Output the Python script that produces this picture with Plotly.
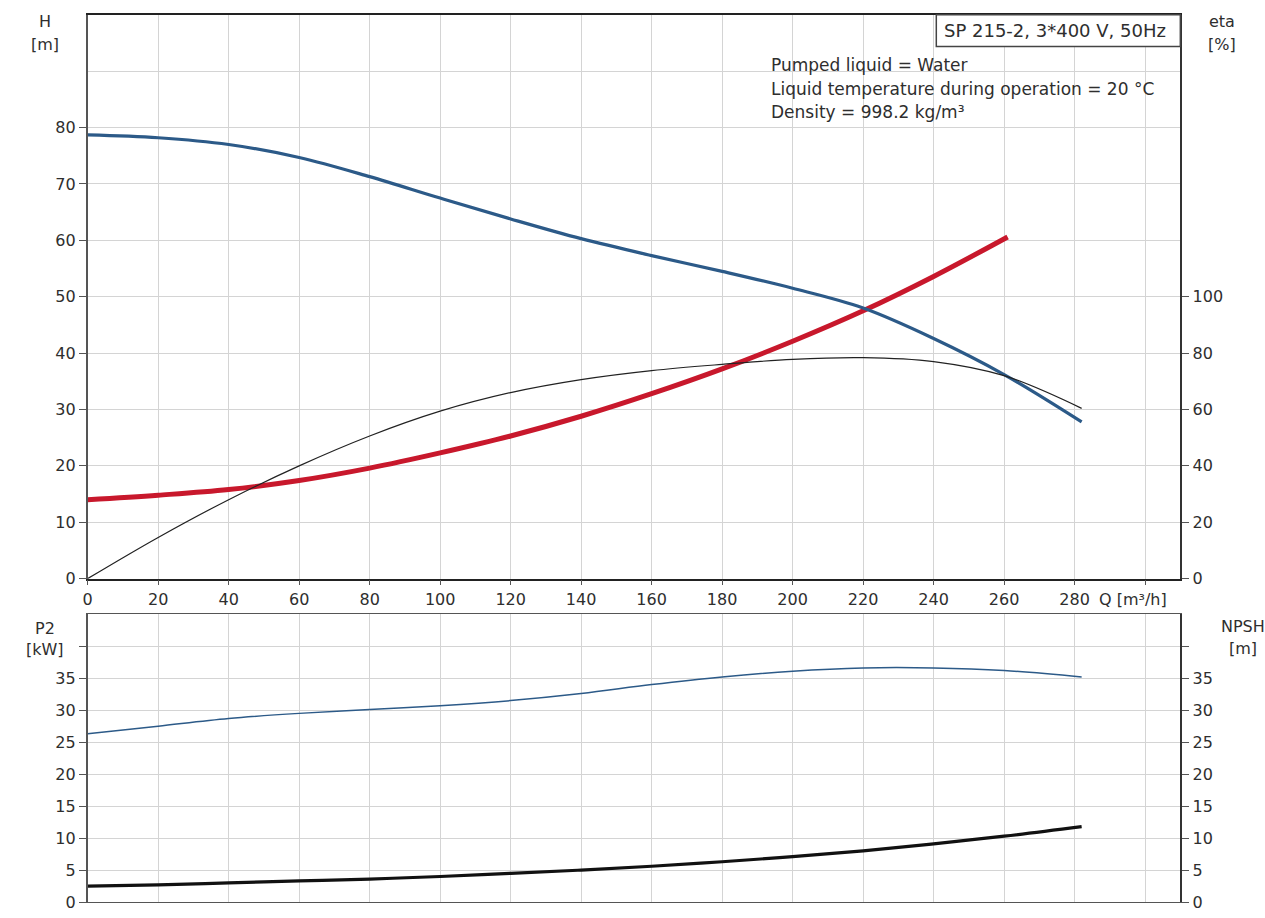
import plotly.graph_objects as go

W, H = 1265, 918

# Flow rate sample points [m3/h]
q = [0, 20, 40, 60, 80, 100, 120, 140, 160, 180, 200, 220, 240, 260, 282]

# Head curve H [m]
head = [78.7, 78.2, 77.0, 74.7, 71.3, 67.5, 63.8, 60.3, 57.3, 54.5, 51.5, 48.0, 42.6, 36.2, 27.8]

# Efficiency curve eta [%]
eta = [0, 14.6, 28.0, 40.0, 50.6, 59.4, 66.0, 70.6, 73.8, 76.0, 77.8, 78.4, 77.0, 72.0, 60.4]

# Red curve in the head panel [m]
q_red = [0, 20, 40, 60, 80, 100, 120, 140, 160, 180, 200, 220, 240, 261]
h_red = [14.0, 14.8, 15.8, 17.4, 19.6, 22.3, 25.3, 28.8, 32.8, 37.2, 42.1, 47.5, 53.6, 60.6]

# Shaft power P2 [kW]
p2 = [26.3, 27.5, 28.7, 29.5, 30.1, 30.7, 31.5, 32.6, 34.0, 35.2, 36.1, 36.6, 36.6, 36.2, 35.2]

# NPSH [m]
npsh = [2.5, 2.7, 3.0, 3.3, 3.6, 4.0, 4.5, 5.0, 5.6, 6.3, 7.1, 8.0, 9.1, 10.3, 11.8]

q_ticks = list(range(0, 301, 20))
q_ticktext = [str(v) for v in range(0, 281, 20)] + [""]
h_ticks = list(range(0, 81, 10))
eta_ticks = list(range(0, 101, 20))
bot_ticks = list(range(0, 41, 5))
bot_ticktext = [str(v) for v in range(0, 36, 5)] + [""]

BLUE = "#2c5a88"
RED = "#c8182c"
DARK = "#222222"
GRID = "#d4d4d4"
AXIS = "#555555"
TXT = "#2e2e2e"
FONT = "DejaVu Sans"


def px(x):
    return x / W


def py(y):
    return 1 - y / H


x_dom = [px(83), px(1180)]
top_dom = [py(585), py(15)]
bot_dom = [py(912), py(621)]

fig = go.Figure()

fig.add_trace(go.Scatter(x=q, y=eta, xaxis="x", yaxis="y2", mode="lines",
                         line=dict(color=DARK, width=1.2, shape="spline")))
fig.add_trace(go.Scatter(x=q_red, y=h_red, xaxis="x", yaxis="y", mode="lines",
                         line=dict(color=RED, width=5, shape="spline")))
fig.add_trace(go.Scatter(x=q, y=head, xaxis="x", yaxis="y", mode="lines",
                         line=dict(color=BLUE, width=3.2, shape="spline")))
fig.add_trace(go.Scatter(x=q, y=p2, xaxis="x2", yaxis="y3", mode="lines",
                         line=dict(color=BLUE, width=1.5, shape="spline")))
fig.add_trace(go.Scatter(x=q, y=npsh, xaxis="x2", yaxis="y4", mode="lines",
                         line=dict(color="#111111", width=3.2, shape="spline")))

tickfont = dict(family=FONT, size=16, color=TXT)

common_x = dict(range=[0, 310], tickvals=q_ticks, showgrid=True, gridcolor=GRID,
                gridwidth=1, zeroline=False, showline=True, linecolor=AXIS,
                linewidth=1, mirror=True, domain=x_dom, tickfont=tickfont)

fig.update_layout(
    width=W, height=H,
    margin=dict(l=0, r=0, t=0, b=0),
    paper_bgcolor="white", plot_bgcolor="white",
    showlegend=False,
    xaxis=dict(common_x, anchor="y", ticktext=q_ticktext, ticks="outside",
               ticklen=5, tickcolor=AXIS, linecolor="#222222", linewidth=1.5),
    yaxis=dict(domain=top_dom, range=[0, 100], tickvals=h_ticks, anchor="x",
               showgrid=True, gridcolor=GRID, zeroline=False, showline=True,
               linecolor=AXIS, linewidth=1.5, ticks="outside", ticklen=7,
               tickcolor=AXIS, tickfont=tickfont,
               minor=dict(tickvals=[90], showgrid=True, gridcolor=GRID, ticks="")),
    yaxis2=dict(overlaying="y", side="right", anchor="x", range=[0, 200],
                tickvals=eta_ticks, showgrid=False, zeroline=False, showline=True,
                linecolor="#333333", linewidth=2, ticks="outside", ticklen=7,
                tickcolor=AXIS, tickfont=tickfont),
    xaxis2=dict(common_x, anchor="y3", showticklabels=False, ticks=""),
    yaxis3=dict(domain=bot_dom, range=[0, 45], tickvals=bot_ticks,
                ticktext=bot_ticktext, anchor="x2", showgrid=True, gridcolor=GRID,
                zeroline=False, showline=True, linecolor=AXIS, linewidth=1.5,
                ticks="outside", ticklen=7, tickcolor=AXIS, tickfont=tickfont),
    yaxis4=dict(overlaying="y3", side="right", anchor="x2", range=[0, 45],
                tickvals=bot_ticks, ticktext=bot_ticktext, showgrid=False,
                zeroline=False, showline=True, linecolor="#333333", linewidth=2,
                ticks="outside", ticklen=7, tickcolor=AXIS, tickfont=tickfont),
)

# Pump designation box
fig.add_shape(type="rect", xref="paper", yref="paper",
              x0=px(935), x1=px(1180), y0=py(47), y1=py(15),
              line=dict(color="#444444", width=1.5), fillcolor="white", layer="above")

annotations = [
    ("SP 215-2, 3*400 V, 50Hz", 941, 31, "left", 18),
    ("Pumped liquid = Water", 767, 66, "left", 17),
    ("Liquid temperature during operation = 20 °C", 767, 90, "left", 17),
    ("Density = 998.2 kg/m³", 767, 113, "left", 17),
    ("H", 40, 22, "center", 16),
    ("[m]", 40, 45, "center", 16),
    ("eta", 1222, 22, "center", 16),
    ("[%]", 1222, 45, "center", 16),
    ("Q [m³/h]", 1096, 606, "left", 16),
    ("P2", 40, 635, "center", 16),
    ("[kW]", 40, 657, "center", 16),
    ("NPSH", 1243, 633, "center", 16),
    ("[m]", 1243, 656, "center", 16),
]
for text, x, y, align, size in annotations:
    fig.add_annotation(text=text, x=px(x), y=py(y), xref="paper", yref="paper",
                       xanchor=align, yanchor="middle", showarrow=False,
                       font=dict(family=FONT, size=size, color=TXT))

fig.write_html("out.html")
